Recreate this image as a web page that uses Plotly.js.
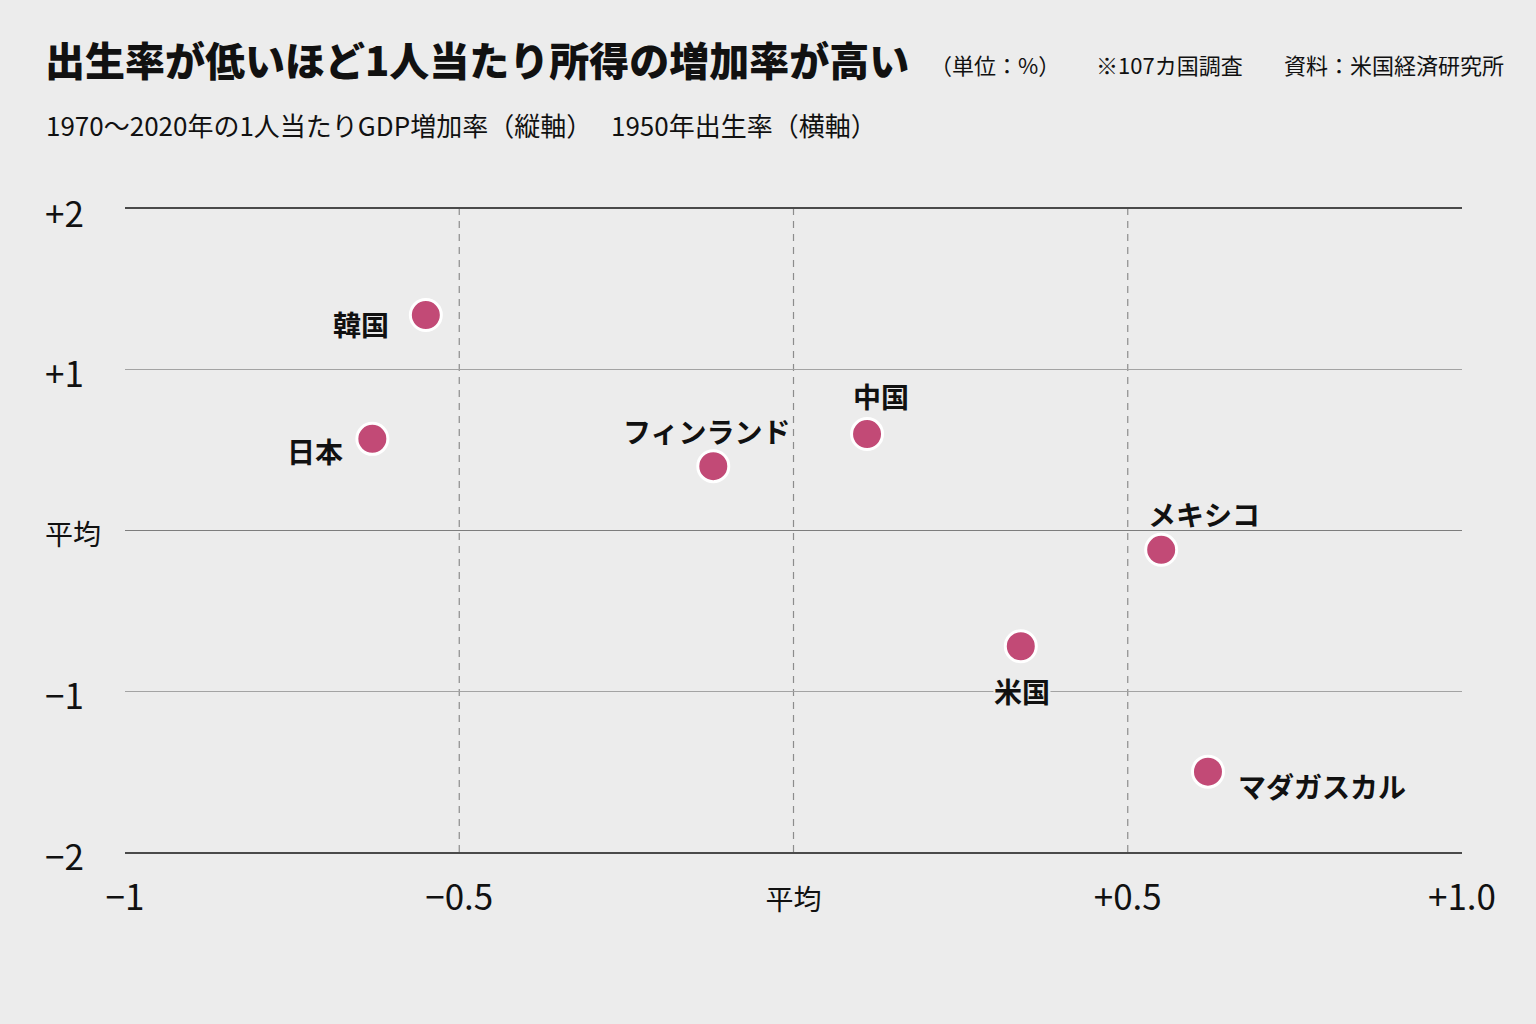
<!DOCTYPE html>
<html lang="ja">
<head>
<meta charset="utf-8">
<script src="https://cdn.plot.ly/plotly-3.0.1.min.js"></script>
<style>
  html, body { margin: 0; padding: 0; background: #ececec; }
  #chart { width: 1536px; height: 1024px; }
</style>
</head>
<body>
<div id="chart"></div>
<script>
// 1950年出生率（平均との差）と 1970～2020年の1人当たりGDP増加率（平均との差）
const countries = ['韓国', '日本', 'フィンランド', '中国', '米国', 'メキシコ', 'マダガスカル'];
const birthRate = [-0.55, -0.63, -0.12, 0.11, 0.34, 0.55, 0.62];
const gdpGrowth = [1.34, 0.57, 0.40, 0.60, -0.72, -0.12, -1.50];

// 軸の目盛り
const xTickVals = [-1, -0.5, 0, 0.5, 1];
const xTickText = ['−1', '−0.5', '平均', '+0.5', '+1.0'];
const yTickVals = [2, 1, 0, -1, -2];
const yTickText = ['+2', '+1', '平均', '−1', '−2'];
const xGuides = [-0.5, 0, 0.5];

// 見出し・注記
const titleText = '出生率が低いほど1人当たり所得の増加率が高い';
const subtitleText = '1970～2020年の1人当たりGDP増加率（縦軸）　 1950年出生率（横軸）';
const unitText = '（単位：%）';
const noteText = '※107カ国調査';
const sourceText = '資料：米国経済研究所';

const BG = '#ececec';
const INK = '#111111';
const DOT = '#c24a76';
const CJK = '"Noto Sans CJK JP", sans-serif';
const NUM = '"Liberation Sans Narrow", "Noto Sans CJK JP", sans-serif';

// 国名ラベルの位置（点からのずれ, px）
const labelPlace = {
  '韓国':        {xanchor: 'right',  xshift: -36, yshift: -9},
  '日本':        {xanchor: 'right',  xshift: -28, yshift: -12},
  'フィンランド': {xanchor: 'center', xshift: -7,  yshift: 35},
  '中国':        {xanchor: 'center', xshift: 14,  yshift: 38},
  '米国':        {xanchor: 'center', xshift: 1,   yshift: -45, bg: true},
  'メキシコ':     {xanchor: 'left',   xshift: -14, yshift: 36},
  'マダガスカル': {xanchor: 'left',   xshift: 29,  yshift: -14}
};

const ML = 125, MR = 74, MT = 209, MB = 172, W = 1536, H = 1024;
const plotW = W - ML - MR, plotH = H - MT - MB;
const px2x = p => (p - ML) / plotW;
const py2y = p => (H - MB - p) / plotH;

const cjkSmall = s => /^[\u3000-\u9fff]+$/.test(s) ? '<span style="font-size:28px">' + s + '</span>' : s;

const trace = {
  type: 'scatter',
  mode: 'markers',
  x: birthRate,
  y: gdpGrowth,
  text: countries,
  hoverinfo: 'text',
  marker: { size: 31, color: DOT, line: { color: '#ffffff', width: 3 } },
  cliponaxis: false
};

const annotations = [];

countries.forEach((c, i) => {
  const p = labelPlace[c];
  annotations.push({
    x: birthRate[i], y: gdpGrowth[i], xref: 'x', yref: 'y',
    text: c, showarrow: false,
    xanchor: p.xanchor, yanchor: 'middle',
    xshift: p.xshift, yshift: p.yshift,
    bgcolor: p.bg ? BG : 'rgba(0,0,0,0)',
    borderpad: 0,
    font: { family: CJK, size: 28, color: INK, weight: 700 }
  });
});

// 縦軸の目盛りラベル（左揃え）
yTickVals.forEach((v, i) => {
  annotations.push({
    x: px2x(43), y: v, xref: 'paper', yref: 'y',
    text: cjkSmall(yTickText[i]), showarrow: false,
    xanchor: 'left', yanchor: 'middle', yshift: -2,
    font: { family: NUM, size: 35, color: INK }
  });
});

annotations.push(
  { x: px2x(44), y: py2y(125), xref: 'paper', yref: 'paper', text: subtitleText,
    showarrow: false, xanchor: 'left', yanchor: 'middle',
    font: { family: NUM, size: 26, color: INK } },
  { x: px2x(928), y: py2y(64), xref: 'paper', yref: 'paper', text: unitText,
    showarrow: false, xanchor: 'left', yanchor: 'middle',
    font: { family: NUM, size: 22, color: INK } },
  { x: px2x(1094), y: py2y(64), xref: 'paper', yref: 'paper', text: noteText,
    showarrow: false, xanchor: 'left', yanchor: 'middle',
    font: { family: NUM, size: 22, color: INK } },
  { x: px2x(1506), y: py2y(64), xref: 'paper', yref: 'paper', text: sourceText,
    showarrow: false, xanchor: 'right', yanchor: 'middle',
    font: { family: NUM, size: 22, color: INK } }
);

// 縦の破線（-0.5・平均・+0.5）
const shapes = xGuides.map(v => ({
  type: 'line', xref: 'x', yref: 'paper', x0: v, x1: v, y0: 0, y1: 1,
  line: { color: '#8c8c8c', width: 1.2, dash: '7px,6px' }, layer: 'below'
}));

const layout = {
  width: W, height: H,
  paper_bgcolor: BG, plot_bgcolor: BG,
  margin: { l: ML, r: MR, t: MT, b: MB },
  showlegend: false,
  title: {
    text: titleText,
    x: 45 / W, xanchor: 'left', xref: 'container',
    y: 1 - 62 / H, yanchor: 'middle', yref: 'container',
    font: { family: CJK, size: 40, color: INK, weight: 900 }
  },
  xaxis: {
    range: [-1, 1], fixedrange: true,
    tickvals: xTickVals, ticktext: xTickText.map(cjkSmall),
    tickfont: { family: NUM, size: 35, color: INK },
    ticks: 'outside', ticklen: 14, tickcolor: 'rgba(0,0,0,0)',
    showgrid: false, zeroline: false,
    showline: true, linecolor: '#4a4a4a', linewidth: 2, mirror: true
  },
  yaxis: {
    range: [-2, 2], fixedrange: true,
    tickvals: yTickVals, showticklabels: false, ticks: '',
    showgrid: true, gridcolor: '#a3a3a3', gridwidth: 1,
    zeroline: true, zerolinecolor: '#7d7d7d', zerolinewidth: 1.5,
    showline: false
  },
  shapes: shapes,
  annotations: annotations
};

Plotly.newPlot('chart', [trace], layout, { displayModeBar: false, staticPlot: true });
</script>
</body>
</html>
